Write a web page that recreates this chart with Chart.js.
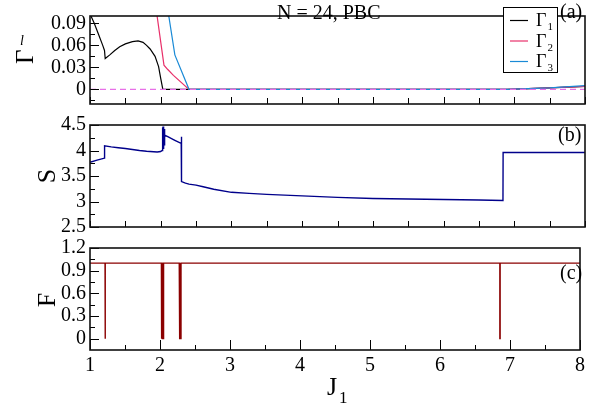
<!DOCTYPE html>
<html><head><meta charset="utf-8">
<script src="https://cdn.jsdelivr.net/npm/chart.js@4"></script>
<style>
html,body{margin:0;padding:0;background:#fff;}
#wrap{position:relative;width:589px;height:409px;background:#fff;}
canvas{position:absolute;left:0;top:0;}
</style></head><body>
<div id="wrap">
<canvas id="ca" width="589" height="409"></canvas>
<canvas id="cb" width="589" height="409"></canvas>
<canvas id="cc" width="589" height="409"></canvas>
</div>
<script>
// ---------------- data ----------------
const seriesNames = ['Γ1', 'Γ2', 'Γ3'];
const g1X = [1.00, 1.06, 1.12, 1.18, 1.205, 1.215, 1.28, 1.35, 1.42, 1.50, 1.60, 1.68, 1.75, 1.80, 1.85, 1.92, 1.97, 2.00, 2.03, 3.00, 4.00, 5.00, 6.00, 6.90, 7.50, 8.00];
const g1Y = [0.103, 0.090, 0.075, 0.060, 0.053, 0.042, 0.047, 0.053, 0.058, 0.062, 0.065, 0.066, 0.064, 0.060, 0.055, 0.045, 0.031, 0.015, 0.000, 0.000, 0.000, 0.000, 0.000, 0.000, 0.002, 0.004];
const g2X = [1.93, 2.046, 2.10, 2.18, 2.40, 3.00, 4.00, 5.00, 6.00, 6.90, 7.50, 8.00];
const g2Y = [0.113, 0.033, 0.027, 0.019, 0.000, 0.000, 0.000, 0.000, 0.000, 0.000, 0.002, 0.004];
const g3X = [2.09, 2.20, 2.40, 3.00, 4.00, 5.00, 6.00, 6.90, 7.50, 8.00];
const g3Y = [0.115, 0.047, 0.000, 0.000, 0.000, 0.000, 0.000, 0.000, 0.002, 0.005];
const zeroX = [1, 8];
const zeroY = [0, 0];

const sX = [1.00, 1.10, 1.205, 1.206, 1.30, 1.40, 1.50, 1.60, 1.70, 1.80, 1.90, 1.95, 2.00, 2.02, 2.025, 2.029, 2.033, 2.037, 2.041, 2.045, 2.049, 2.053, 2.057, 2.10, 2.20, 2.29, 2.292, 2.296, 2.35, 2.40, 2.50, 2.60, 2.75, 3.00, 3.25, 3.50, 4.00, 4.50, 5.00, 5.50, 6.00, 6.50, 6.84, 6.842, 7.00, 7.50, 8.00];
const sY = [3.77, 3.81, 3.85, 4.09, 4.07, 4.055, 4.04, 4.02, 4.00, 3.985, 3.975, 3.97, 3.98, 4.00, 4.45, 4.02, 4.47, 4.03, 4.44, 4.05, 4.42, 4.10, 4.30, 4.27, 4.20, 4.14, 4.27, 3.39, 3.36, 3.34, 3.32, 3.29, 3.24, 3.18, 3.16, 3.14, 3.11, 3.08, 3.06, 3.05, 3.04, 3.03, 3.02, 3.96, 3.96, 3.96, 3.96];

const fX = [1.00, 1.215, 1.215, 1.219, 1.219, 2.020, 2.020, 2.025, 2.025, 2.030, 2.030, 2.035, 2.035, 2.040, 2.040, 2.045, 2.045, 2.050, 2.050, 2.055, 2.055, 2.275, 2.275, 2.280, 2.280, 2.285, 2.285, 2.290, 2.290, 2.295, 2.295, 2.300, 2.300, 6.855, 6.855, 6.859, 6.859, 8.00];
const fY = [1, 1, 0, 0, 1, 1, 0, 0, 1, 1, 0, 0, 1, 1, 0, 0, 1, 1, 0, 0, 1, 1, 0, 0, 1, 1, 0, 0, 1, 1, 0, 0, 1, 1, 0, 0, 1, 1];

const xMajor = [1, 2, 3, 4, 5, 6, 7, 8];
const xMinor = [1.5, 2.5, 3.5, 4.5, 5.5, 6.5, 7.5];
const xTickLabels = ['1', '2', '3', '4', '5', '6', '7', '8'];
const yTicksA = [0, 0.03, 0.06, 0.09];
const yLabelsA = ['0', '0.03', '0.06', '0.09'];
const yMinorA = [-0.015, 0.015, 0.045, 0.075];
const yTicksB = [2.5, 3, 3.5, 4, 4.5];
const yLabelsB = ['2.5', '3', '3.5', '4', '4.5'];
const yMinorB = [2.75, 3.25, 3.75, 4.25];
const yTicksC = [0, 0.3, 0.6, 0.9, 1.2];
const yLabelsC = ['0', '0.3', '0.6', '0.9', '1.2'];
const yMinorC = [0.15, 0.45, 0.75, 1.05];

// ---------------- helpers ----------------
const FONT = "'Liberation Serif', 'Times New Roman', serif";
Chart.defaults.font.family = FONT;
Chart.defaults.color = '#000';
const pts = (xs, ys) => xs.map((x, i) => ({x: x, y: ys[i]}));

const decor = {
  id: 'decor',
  afterDraw(chart, args, o) {
    const {ctx, chartArea: ca} = chart;
    const xs = chart.scales.x, ys = chart.scales.y;
    ctx.save();
    ctx.strokeStyle = '#000';
    ctx.lineWidth = 1;
    const ln = (x1, y1, x2, y2) => { ctx.beginPath(); ctx.moveTo(x1, y1); ctx.lineTo(x2, y2); ctx.stroke(); };
    xMajor.forEach(v => { const p = Math.round(xs.getPixelForValue(v)) + 0.5; ln(p, ca.bottom, p, ca.bottom - o.xMajLen); });
    xMinor.forEach(v => { const p = Math.round(xs.getPixelForValue(v)) + 0.5; ln(p, ca.bottom, p, ca.bottom - o.xMinLen); });
    o.yMajor.forEach(v => { const p = Math.round(ys.getPixelForValue(v)) + 0.5; ln(ca.left, p, ca.left + 9, p); });
    o.yMinor.forEach(v => { const p = Math.round(ys.getPixelForValue(v)) + 0.5; ln(ca.left, p, ca.left + 5, p); });
    ctx.lineWidth = 1.6;
    ctx.strokeStyle = '#111';
    ctx.strokeRect(ca.left, ca.top, ca.right - ca.left, ca.bottom - ca.top);
    // texts
    ctx.fillStyle = '#000';
    (o.texts || []).forEach(t => {
      ctx.save();
      ctx.font = t.font;
      ctx.textAlign = t.align || 'left';
      ctx.textBaseline = t.baseline || 'alphabetic';
      ctx.translate(t.x, t.y);
      if (t.rot) ctx.rotate(t.rot);
      ctx.fillText(t.text, 0, 0);
      ctx.restore();
    });
    // legend
    if (o.legend) {
      const L = o.legend;
      ctx.fillStyle = '#fff';
      ctx.fillRect(L.x, L.y, L.w, L.h);
      ctx.lineWidth = 1;
      ctx.strokeStyle = '#000';
      ctx.strokeRect(L.x + 0.5, L.y + 0.5, L.w, L.h);
      seriesNames.forEach((name, i) => {
        const ds = chart.data.datasets[i];
        const cy = L.y + 13 + i * 20.5;
        ctx.strokeStyle = ds.borderColor;
        ctx.lineWidth = 1.2;
        ln(L.x + 7, cy + 0.5, L.x + 25, cy + 0.5);
        ctx.fillStyle = '#000';
        ctx.textAlign = 'left';
        ctx.textBaseline = 'alphabetic';
        ctx.font = '18px ' + FONT;
        ctx.fillText(name.charAt(0), L.x + 33, cy + 6);
        const w = ctx.measureText(name.charAt(0)).width;
        ctx.font = '11px ' + FONT;
        ctx.fillText(name.slice(1), L.x + 33 + w + 1, cy + 10);
      });
    }
    ctx.restore();
  }
};

function opts(cfg) {
  return {
    responsive: false,
    animation: false,
    devicePixelRatio: 1,
    layout: {padding: {left: 0, right: 4, top: cfg.top, bottom: cfg.bottom}},
    plugins: {legend: {display: false}, tooltip: {enabled: false}, decor: cfg.decor},
    elements: {point: {radius: 0}, line: {tension: 0}},
    scales: {
      x: {
        type: 'linear', min: 1, max: 8,
        display: cfg.showX,
        grid: {display: false, drawTicks: false},
        border: {display: false},
        afterBuildTicks: s => { s.ticks = xMajor.map(v => ({value: v})); },
        afterFit: s => { s.height = cfg.xHeight || 0; },
        ticks: {
          autoSkip: false,
          font: {size: 20, family: FONT}, color: '#000', padding: 4, maxRotation: 0,
          callback: (v, i) => xTickLabels[i]
        }
      },
      y: {
        type: 'linear', min: cfg.ymin, max: cfg.ymax,
        grid: {display: false, drawTicks: false},
        border: {display: false},
        afterBuildTicks: s => { s.ticks = cfg.yTicks.map(v => ({value: v})); },
        afterFit: s => { s.width = 90; },
        ticks: {
          autoSkip: false,
          font: {size: 20, family: FONT}, color: '#000', padding: 4,
          callback: (v, i) => cfg.yLabels[i]
        }
      }
    }
  };
}

// ---------------- panel (a) ----------------
new Chart(document.getElementById('ca'), {
  type: 'scatter',
  data: {datasets: [
    {label: seriesNames[0], data: pts(g1X, g1Y), showLine: true, borderColor: '#000000', borderWidth: 1.2, order: 4},
    {label: seriesNames[1], data: pts(g2X, g2Y), showLine: true, borderColor: '#e8306a', borderWidth: 1.2, order: 3},
    {label: seriesNames[2], data: pts(g3X, g3Y), showLine: true, borderColor: '#1a8ad6', borderWidth: 1.2, order: 2},
    {label: 'zero', data: pts(zeroX, zeroY), showLine: true, borderColor: '#e870e8', borderWidth: 1.3, borderDash: [6, 4], order: 1}
  ]},
  options: opts({top: 3, bottom: 305, showX: false, ymin: -0.02, ymax: 0.1, yTicks: yTicksA, yLabels: yLabelsA,
    decor: {xMajLen: 7, xMinLen: 6, yMajor: yTicksA, yMinor: yMinorA,
      legend: {x: 503, y: 7, w: 54, h: 65},
      texts: [
        {text: 'N = 24, PBC', x: 277, y: 19, font: '20px ' + FONT},
        {text: '(a)', x: 560, y: 18, font: '20px ' + FONT},
        {text: 'Γ', x: 33, y: 64, font: '25px ' + FONT, rot: -Math.PI / 2},
        {text: 'l', x: 20, y: 45, font: 'italic 14px ' + FONT}
      ]}}),
  plugins: [decor]
});

// ---------------- panel (b) ----------------
new Chart(document.getElementById('cb'), {
  type: 'scatter',
  data: {datasets: [
    {label: 'S', data: pts(sX, sY), showLine: true, borderColor: '#00008b', borderWidth: 1.4}
  ]},
  options: opts({top: 125, bottom: 182, showX: false, ymin: 2.5, ymax: 4.5, yTicks: yTicksB, yLabels: yLabelsB,
    decor: {xMajLen: 6, xMinLen: 6, yMajor: yTicksB, yMinor: yMinorB,
      texts: [
        {text: '(b)', x: 558, y: 141, font: '20px ' + FONT},
        {text: 'S', x: 55, y: 176, font: '26px ' + FONT, rot: -Math.PI / 2, align: 'center'}
      ]}}),
  plugins: [decor]
});

// ---------------- panel (c) ----------------
new Chart(document.getElementById('cc'), {
  type: 'scatter',
  data: {datasets: [
    {label: 'F', data: pts(fX, fY), showLine: true, borderColor: '#8b0000', borderWidth: 1.4}
  ]},
  options: opts({top: 248, bottom: 0, showX: true, xHeight: 59, ymin: -0.15, ymax: 1.2, yTicks: yTicksC, yLabels: yLabelsC,
    decor: {xMajLen: 10, xMinLen: 5, yMajor: yTicksC, yMinor: yMinorC,
      texts: [
        {text: '(c)', x: 560, y: 279, font: '20px ' + FONT},
        {text: 'F', x: 55, y: 300, font: '26px ' + FONT, rot: -Math.PI / 2, align: 'center'},
        {text: 'J', x: 327, y: 395, font: '26px ' + FONT},
        {text: '1', x: 339, y: 403, font: '17px ' + FONT}
      ]}}),
  plugins: [decor]
});
</script>
</body></html>
